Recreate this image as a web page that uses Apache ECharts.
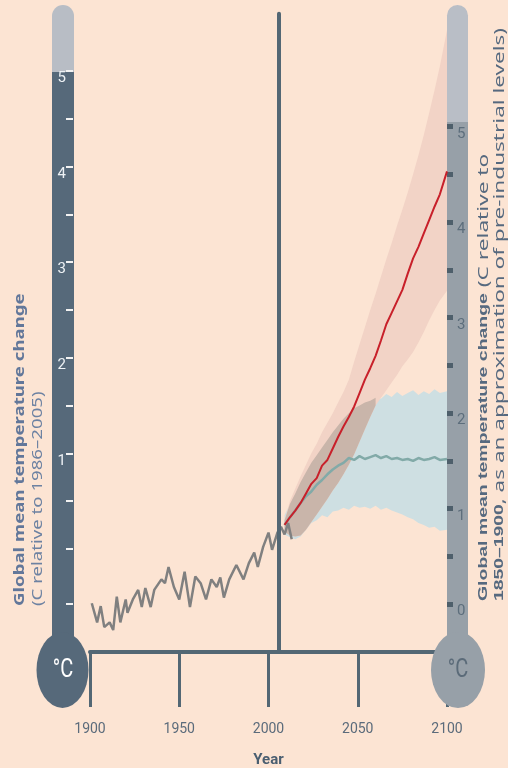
<!DOCTYPE html>
<html>
<head>
<meta charset="utf-8">
<script src="https://cdn.jsdelivr.net/npm/echarts@6/dist/echarts.min.js"></script>
<style>
html,body{margin:0;padding:0;background:#fce4d3;}
#chart{width:508px;height:768px;}
</style>
</head>
<body>
<div id="chart"></div>
<script>
// ---------- data (left scale: °C relative to 1986–2005) ----------
const xTickYears = [1900, 1950, 2000, 2050, 2100];
const leftTickValues = [-0.58, 0, 0.5, 1, 1.5, 2, 2.5, 3, 3.5, 4, 4.5, 5];
const leftLabelValues = [1, 2, 3, 4, 5];
const rightTickValues = [0, 0.5, 1, 1.5, 2, 2.5, 3, 3.5, 4, 4.5, 5];
const rightLabelValues = [0, 1, 2, 3, 4, 5];
const preIndustrialOffset = 0.58;
const dividerYear = 2006;

const histYears = [1901,1904,1906,1908,1911,1913,1915,1917,1920,1921,1924,1927,1929,1931,1934,1936,1940,1942,1944,1947,1950,1953,1956,1959,1962,1965,1968,1971,1973,1975,1978,1982,1986,1989,1992,1994,1997,2000,2002,2005,2007,2009,2011,2013];
const histValues = [-0.57,-0.77,-0.60,-0.82,-0.77,-0.85,-0.50,-0.77,-0.53,-0.67,-0.53,-0.43,-0.61,-0.41,-0.61,-0.43,-0.32,-0.36,-0.19,-0.40,-0.53,-0.24,-0.61,-0.29,-0.36,-0.53,-0.32,-0.40,-0.30,-0.51,-0.32,-0.17,-0.32,-0.15,-0.04,-0.19,0.02,0.17,-0.01,0.17,0.23,0.15,0.27,0.10];

const projYears = [2009,2012,2015,2018,2021,2024,2027,2030,2033,2036,2039,2042,2045,2048,2051,2054,2057,2060,2063,2066,2069,2072,2075,2078,2081,2084,2087,2090,2093,2096,2100];
const highMean = [0.25,0.33,0.40,0.48,0.58,0.68,0.74,0.87,0.93,1.05,1.17,1.28,1.38,1.49,1.63,1.77,1.89,2.02,2.18,2.35,2.47,2.59,2.71,2.88,3.04,3.16,3.30,3.44,3.58,3.71,3.95];
const highUpper = [0.30,0.50,0.63,0.76,0.88,1.00,1.10,1.22,1.32,1.42,1.53,1.64,1.77,1.96,2.14,2.32,2.50,2.67,2.85,3.03,3.20,3.38,3.55,3.73,3.92,4.12,4.33,4.56,4.80,5.05,5.43];
const highLower = [0.18,0.14,0.13,0.14,0.20,0.28,0.36,0.44,0.52,0.61,0.69,0.78,0.88,0.99,1.12,1.25,1.38,1.50,1.58,1.66,1.74,1.82,1.91,1.98,2.06,2.16,2.27,2.39,2.50,2.60,2.70];
const lowMean = [0.25,0.33,0.40,0.48,0.55,0.60,0.67,0.72,0.78,0.83,0.87,0.90,0.95,0.93,0.97,0.94,0.96,0.98,0.95,0.97,0.94,0.95,0.93,0.94,0.92,0.95,0.93,0.94,0.96,0.93,0.94];
const lowUpper = [0.35,0.47,0.58,0.70,0.80,0.90,0.98,1.06,1.14,1.22,1.29,1.36,1.42,1.47,1.50,1.53,1.55,1.58,1.57,1.62,1.59,1.64,1.60,1.63,1.66,1.61,1.65,1.62,1.67,1.63,1.65];
const lowLower = [0.15,0.12,0.10,0.13,0.20,0.27,0.30,0.35,0.33,0.39,0.40,0.43,0.41,0.45,0.43,0.44,0.42,0.45,0.41,0.43,0.40,0.38,0.36,0.33,0.31,0.27,0.25,0.22,0.23,0.19,0.20];

// ---------- build ----------
const BG = '#fce4d3';
const SLATE = '#536774';
const FONT_N = '"Roboto", "Liberation Sans", sans-serif';
const FONT_T = '"Noto Sans", "Open Sans", sans-serif';

const ovYears = [], ovLo = [], ovHi = [];
projYears.forEach((y, i) => {
  const lo = Math.max(highLower[i], lowLower[i]);
  const hi = Math.min(highUpper[i], lowUpper[i]);
  if (hi > lo) { ovYears.push(y); ovLo.push(lo); ovHi.push(hi); }
});

function band(name, years, lo, hi, color) {
  return {
    type: 'custom', name, z: 1, silent: true,
    data: years.map((y, i) => [y, lo[i], hi[i]]),
    encode: { x: 0, y: [1, 2] },
    renderItem: function (params, api) {
      if (params.dataIndex !== 0) return { type: 'group', children: [] };
      const pts = [];
      for (let i = 0; i < years.length; i++) pts.push(api.coord([years[i], hi[i]]));
      for (let i = years.length - 1; i >= 0; i--) pts.push(api.coord([years[i], lo[i]]));
      return { type: 'polygon', shape: { points: pts }, style: { fill: color } };
    }
  };
}
const zip = (a, b) => a.map((v, i) => [v, b[i]]);

const leftMin = -1.08, leftMax = 5.66;

const option = {
  backgroundColor: BG,
  animation: false,
  grid: { left: 90, right: 61, top: 8, bottom: 116, containLabel: false, outerBoundsMode: 'none' },
  xAxis: {
    type: 'value', min: 1900, max: 2100, interval: 50,
    axisLine: { show: true, onZero: false, lineStyle: { color: SLATE, width: 4 } },
    axisTick: { show: true, length: 55, lineStyle: { color: SLATE, width: 3 }, customValues: xTickYears },
    axisLabel: { margin: 70, color: '#5b6b7b', fontSize: 14, fontFamily: FONT_N, customValues: xTickYears, formatter: v => String(v) },
    splitLine: { show: false },
    name: 'Year', nameLocation: 'middle', nameGap: 101,
    nameTextStyle: { color: '#4a5e70', fontWeight: 'bold', fontSize: 15, fontFamily: FONT_N }
  },
  yAxis: [
    {
      type: 'value', min: leftMin, max: leftMax, position: 'left', offset: 17,
      axisLine: { show: false }, splitLine: { show: false },
      axisTick: { show: true, length: 7, lineStyle: { color: '#f2f2f2', width: 2 }, customValues: leftTickValues },
      axisLabel: { customValues: leftLabelValues, color: '#eef2f5', fontSize: 15, fontFamily: FONT_N, margin: 7, verticalAlign: 'top' }
    },
    {
      type: 'value', min: leftMin + preIndustrialOffset, max: leftMax + preIndustrialOffset, position: 'right', offset: 0,
      axisLine: { show: false }, splitLine: { show: false },
      axisTick: { show: true, length: 6, lineStyle: { color: '#4e5f6b', width: 5 }, customValues: rightTickValues },
      axisLabel: { customValues: rightLabelValues, color: '#5d6e7c', fontSize: 15, fontFamily: FONT_N, margin: 10, verticalAlign: 'top' }
    }
  ],
  graphic: [
    // left thermometer
    { type: 'rect', z: -5, shape: { x: 52, y: 5, width: 22, height: 640, r: [11, 11, 0, 0] }, style: { fill: '#b8bdc5' } },
    { type: 'rect', z: -5, shape: { x: 52, y: 72, width: 22, height: 575 }, style: { fill: '#56697a' } },
    { type: 'circle', z: 20, x: 62.5, y: 670, scaleY: 1.46, shape: { cx: 0, cy: 0, r: 26 }, style: { fill: '#56697a' } },
    { type: 'text', z: 21, x: 63, y: 670, scaleY: 1.3, style: { text: '°C', fill: '#ffffff', font: '20px ' + FONT_N, align: 'center', verticalAlign: 'middle' } },
    // right thermometer
    { type: 'rect', z: -5, shape: { x: 447, y: 5, width: 21, height: 640, r: [10.5, 10.5, 0, 0] }, style: { fill: '#b9bec6' } },
    { type: 'rect', z: -5, shape: { x: 447, y: 122, width: 21, height: 525 }, style: { fill: '#97a0a8' } },
    { type: 'circle', z: 20, x: 458, y: 670, scaleY: 1.41, shape: { cx: 0, cy: 0, r: 27 }, style: { fill: '#97a0a8' } },
    { type: 'text', z: 21, x: 458, y: 670, scaleY: 1.3, style: { text: '°C', fill: '#5b6b79', font: '20px ' + FONT_N, align: 'center', verticalAlign: 'middle' } },
    // left axis title
    { type: 'text', z: 10, x: 20, y: 606, rotation: Math.PI / 2, scaleX: 1.33,
      style: { text: 'Global mean temperature change', fill: '#62779a', font: 'bold 14px ' + FONT_T, align: 'left', verticalAlign: 'middle' } },
    { type: 'text', z: 10, x: 38, y: 606, rotation: Math.PI / 2, scaleX: 1.33,
      style: { text: '(C relative to 1986–2005)', fill: '#6d82a2', font: '14px ' + FONT_T, align: 'left', verticalAlign: 'middle' } },
    // right axis title
    { type: 'text', z: 10, x: 484, y: 601, rotation: Math.PI / 2, scaleX: 1.62,
      style: { text: '{b|Global mean temperature change} (C relative to', fill: '#56697f', font: '14px ' + FONT_T, align: 'left', verticalAlign: 'middle',
        rich: { b: { fontWeight: 'bold', fill: '#56697f', font: 'bold 14px ' + FONT_T } } } },
    { type: 'text', z: 10, x: 500, y: 601, rotation: Math.PI / 2, scaleX: 1.61,
      style: { text: '{b|1850–1900}, as an approximation of pre-industrial levels)', fill: '#56697f', font: '14px ' + FONT_T, align: 'left', verticalAlign: 'middle',
        rich: { b: { fontWeight: 'bold', fill: '#56697f', font: 'bold 14px ' + FONT_T } } } }
  ],
  series: [
    band('Low scenario range', projYears, lowLower, lowUpper, '#cedfe2'),
    band('High scenario range', projYears, highLower, highUpper, '#f2d3c6'),
    band('Overlap', ovYears, ovLo, ovHi, '#c9b5aa'),
    {
      type: 'line', name: 'Observed', z: 3, data: zip(histYears, histValues), symbol: 'none',
      lineStyle: { color: '#808080', width: 2.5 },
      markLine: {
        silent: true, symbol: 'none', label: { show: false },
        lineStyle: { color: SLATE, width: 4, type: 'solid', cap: 'round' },
        data: [[{ coord: [dividerYear, leftMin] }, { coord: [dividerYear, 5.6] }]]
      }
    },
    { type: 'line', name: 'Low scenario', z: 4, data: zip(projYears, lowMean), symbol: 'none', lineStyle: { color: '#82aaa8', width: 2.5 } },
    { type: 'line', name: 'High scenario', z: 5, data: zip(projYears, highMean), symbol: 'none', lineStyle: { color: '#c8202a', width: 2 } }
  ]
};

const chart = echarts.init(document.getElementById('chart'), null, { renderer: 'canvas' });
chart.setOption(option);
</script>
</body>
</html>
